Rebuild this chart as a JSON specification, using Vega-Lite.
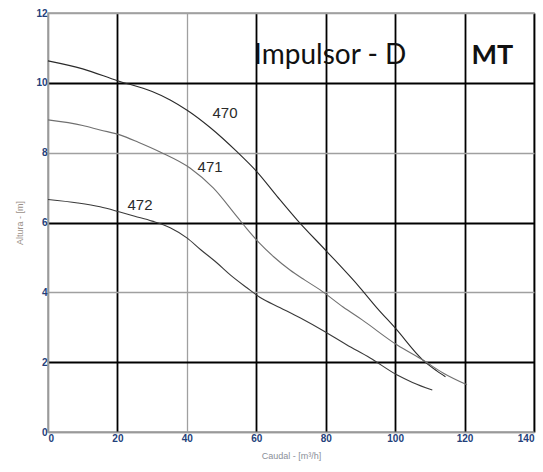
{
  "$schema": "https://vega.github.io/schema/vega-lite/v6.json",
  "width": 486,
  "height": 419,
  "autosize": {"type": "none"},
  "padding": {"left": 48, "top": 13, "right": 9, "bottom": 40},
  "background": "white",
  "config": {
    "view": {"stroke": "#9a9a9a", "strokeWidth": 1.5},
    "font": "Liberation Sans"
  },
  "datasets": {
    "curves": [
      {"curve": "470", "q": 0, "h": 10.63}, {"curve": "470", "q": 10, "h": 10.4}, {"curve": "470", "q": 20, "h": 10.06},
      {"curve": "470", "q": 30, "h": 9.75}, {"curve": "470", "q": 35.2, "h": 9.51}, {"curve": "470", "q": 40.3, "h": 9.2},
      {"curve": "470", "q": 46.7, "h": 8.72}, {"curve": "470", "q": 54.5, "h": 8.02}, {"curve": "470", "q": 60.2, "h": 7.45},
      {"curve": "470", "q": 66, "h": 6.75}, {"curve": "470", "q": 71.8, "h": 6.07}, {"curve": "470", "q": 80.4, "h": 5.16},
      {"curve": "470", "q": 89.9, "h": 4.13}, {"curve": "470", "q": 94.8, "h": 3.55}, {"curve": "470", "q": 100, "h": 2.98},
      {"curve": "470", "q": 108, "h": 2.06}, {"curve": "470", "q": 112, "h": 1.75}, {"curve": "470", "q": 114.5, "h": 1.58},
      {"curve": "471", "q": 0, "h": 8.94}, {"curve": "471", "q": 10, "h": 8.78}, {"curve": "471", "q": 15, "h": 8.65},
      {"curve": "471", "q": 20.7, "h": 8.51}, {"curve": "471", "q": 26, "h": 8.3}, {"curve": "471", "q": 32.3, "h": 8.02},
      {"curve": "471", "q": 40.9, "h": 7.56}, {"curve": "471", "q": 47.6, "h": 6.99}, {"curve": "471", "q": 54.5, "h": 6.16},
      {"curve": "471", "q": 57.3, "h": 5.82}, {"curve": "471", "q": 61, "h": 5.4}, {"curve": "471", "q": 65, "h": 5.02},
      {"curve": "471", "q": 69.7, "h": 4.64}, {"curve": "471", "q": 74, "h": 4.35}, {"curve": "471", "q": 78.4, "h": 4.07},
      {"curve": "471", "q": 85, "h": 3.58}, {"curve": "471", "q": 90.5, "h": 3.21}, {"curve": "471", "q": 100.6, "h": 2.49},
      {"curve": "471", "q": 108, "h": 2.06}, {"curve": "471", "q": 113.8, "h": 1.69}, {"curve": "471", "q": 120.7, "h": 1.35},
      {"curve": "472", "q": 0, "h": 6.66}, {"curve": "472", "q": 8.6, "h": 6.56}, {"curve": "472", "q": 15, "h": 6.45},
      {"curve": "472", "q": 20.7, "h": 6.3}, {"curve": "472", "q": 25, "h": 6.18}, {"curve": "472", "q": 30, "h": 6.04},
      {"curve": "472", "q": 35.2, "h": 5.85}, {"curve": "472", "q": 40, "h": 5.56}, {"curve": "472", "q": 44, "h": 5.22},
      {"curve": "472", "q": 48.7, "h": 4.84}, {"curve": "472", "q": 52.5, "h": 4.5}, {"curve": "472", "q": 57.3, "h": 4.13},
      {"curve": "472", "q": 61, "h": 3.86}, {"curve": "472", "q": 66.9, "h": 3.56}, {"curve": "472", "q": 72.6, "h": 3.27},
      {"curve": "472", "q": 79.8, "h": 2.87}, {"curve": "472", "q": 86, "h": 2.5}, {"curve": "472", "q": 92.8, "h": 2.12},
      {"curve": "472", "q": 100.6, "h": 1.63}, {"curve": "472", "q": 105, "h": 1.42}, {"curve": "472", "q": 110.7, "h": 1.2}
    ],
    "labels": [
      {"label": "470", "q": 51, "h": 9.14},
      {"label": "471", "q": 46.7, "h": 7.6},
      {"label": "472", "q": 26.5, "h": 6.5}
    ],
    "titles": [
      {"text": "Impulsor - D", "q": 81.3, "h": 10.54},
      {"text": "MT", "q": 128, "h": 10.54}
    ]
  },
  "layer": [
    {
      "data": {"name": "curves"},
      "mark": {"type": "line", "interpolate": "monotone", "strokeWidth": 1.1},
      "encoding": {
        "x": {
          "field": "q", "type": "quantitative",
          "scale": {"domain": [0, 140], "nice": false},
          "axis": {
            "title": "Caudal - [m³/h]",
            "values": [0, 20, 40, 60, 80, 100, 120, 140],
            "grid": true,
            "gridColor": {"condition": {"test": "datum.value === 0 || datum.value === 40", "value": "#a0a0a0"}, "value": "#000000"},
            "gridWidth": {"condition": {"test": "datum.value === 0 || datum.value === 40", "value": 1.3}, "value": 1.8},
            "domainColor": "#9a9a9a", "domainWidth": 1.5,
            "ticks": false, "labelPadding": 1,
            "labelFont": "Liberation Sans", "labelFontWeight": "bold", "labelFontSize": 10, "labelColor": "#23407a",
            "titleFont": "Liberation Sans", "titleFontWeight": "normal", "titleFontSize": 9, "titleColor": "#8a8f99",
            "titlePadding": 8
          }
        },
        "y": {
          "field": "h", "type": "quantitative",
          "scale": {"domain": [0, 12], "nice": false},
          "axis": {
            "title": "Altura - [m]",
            "values": [0, 2, 4, 6, 8, 10, 12],
            "grid": true,
            "gridColor": {"condition": {"test": "datum.value % 4 === 0", "value": "#a0a0a0"}, "value": "#000000"},
            "gridWidth": {"condition": {"test": "datum.value % 4 === 0", "value": 1.3}, "value": 1.8},
            "domainColor": "#9a9a9a", "domainWidth": 1.5,
            "ticks": false, "labelPadding": 1,
            "labelFont": "Liberation Sans", "labelFontWeight": "bold", "labelFontSize": 10, "labelColor": "#23407a",
            "titleFont": "Liberation Sans", "titleFontWeight": "normal", "titleFontSize": 9, "titleColor": "#9a9088",
            "titlePadding": 11
          }
        },
        "detail": {"field": "curve"},
        "color": {
          "field": "curve", "type": "nominal",
          "scale": {"domain": ["470", "471", "472"], "range": ["#2a2a2a", "#707070", "#3a3a3a"]},
          "legend": null
        }
      }
    },
    {
      "data": {"name": "labels"},
      "mark": {"type": "text", "font": "Liberation Sans", "fontSize": 15, "color": "#2a2a2a", "baseline": "middle", "align": "center"},
      "encoding": {
        "x": {"field": "q", "type": "quantitative"},
        "y": {"field": "h", "type": "quantitative"},
        "text": {"field": "label"}
      }
    },
    {
      "data": {"name": "titles"},
      "transform": [{"filter": "datum.text !== 'MT'"}],
      "mark": {"type": "text", "font": "Lato", "fontSize": 28, "color": "#111111", "baseline": "alphabetic", "align": "center"},
      "encoding": {
        "x": {"field": "q", "type": "quantitative"},
        "y": {"field": "h", "type": "quantitative"},
        "text": {"field": "text"}
      }
    },
    {
      "data": {"name": "titles"},
      "transform": [{"filter": "datum.text === 'MT'"}],
      "mark": {"type": "text", "font": "Lato", "fontSize": 27, "fontWeight": "bold", "color": "#111111", "baseline": "alphabetic", "align": "center"},
      "encoding": {
        "x": {"field": "q", "type": "quantitative"},
        "y": {"field": "h", "type": "quantitative"},
        "text": {"field": "text"}
      }
    }
  ]
}
